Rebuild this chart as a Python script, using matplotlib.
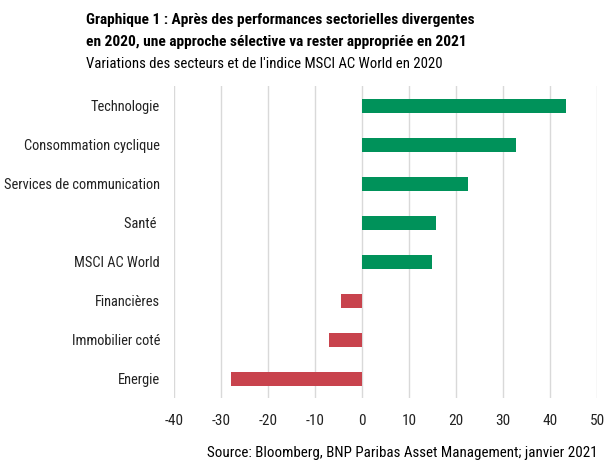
import matplotlib.pyplot as plt

# Data
categories = [
    "Technologie",
    "Consommation cyclique",
    "Services de communication",
    "Santé ",
    "MSCI AC World",
    "Financières",
    "Immobilier coté",
    "Energie",
]
values = [43.5, 32.8, 22.5, 15.7, 14.8, -4.5, -7.1, -27.9]
xticks = [-40, -30, -20, -10, 0, 10, 20, 30, 40, 50]

plt.rcParams["font.family"] = ["Roboto Condensed", "Liberation Sans", "DejaVu Sans"]

green = "#00925A"
red = "#C8434D"

fig = plt.figure(figsize=(6.11, 4.67), dpi=100)
ax = fig.add_axes([0.2848, 0.1467, 0.977 - 0.2848, 0.8148 - 0.1467])

y_pos = list(range(len(categories)))
colors = [green if v >= 0 else red for v in values]
ax.barh(y_pos, values, height=0.35, color=colors, zorder=3)

ax.set_yticks(y_pos)
ax.set_yticklabels(categories, fontsize=10.4, color="#222222")
ax.set_ylim(len(categories) - 0.5, -0.5)

ax.set_xlim(-40, 50)
ax.set_xticks(xticks)
ax.set_xticklabels([str(t) for t in xticks], fontsize=11, color="#222222")
ax.xaxis.grid(True, color="#D9D9D9", linewidth=1.0, zorder=0)
ax.tick_params(axis="both", length=0)
ax.tick_params(axis="x", pad=11)
ax.tick_params(axis="y", pad=10)
for s in ax.spines.values():
    s.set_visible(False)

# Title
fig.text(86 / 611, 1 - 20 / 467, "Graphique 1 : Après des performances sectorielles divergentes",
         fontsize=11.1, fontweight="bold", va="center", ha="left")
fig.text(86 / 611, 1 - 42 / 467, "en 2020, une approche sélective va rester appropriée en 2021",
         fontsize=11.1, fontweight="bold", va="center", ha="left")
fig.text(86 / 611, 1 - 64 / 467, "Variations des secteurs et de l'indice MSCI AC World en 2020",
         fontsize=10.6, va="center", ha="left")

# Source
fig.text(598 / 611, 1 - 453 / 467, "Source: Bloomberg, BNP Paribas Asset Management; janvier 2021",
         fontsize=10.8, va="center", ha="right")

fig.savefig("out.png", dpi=100)
